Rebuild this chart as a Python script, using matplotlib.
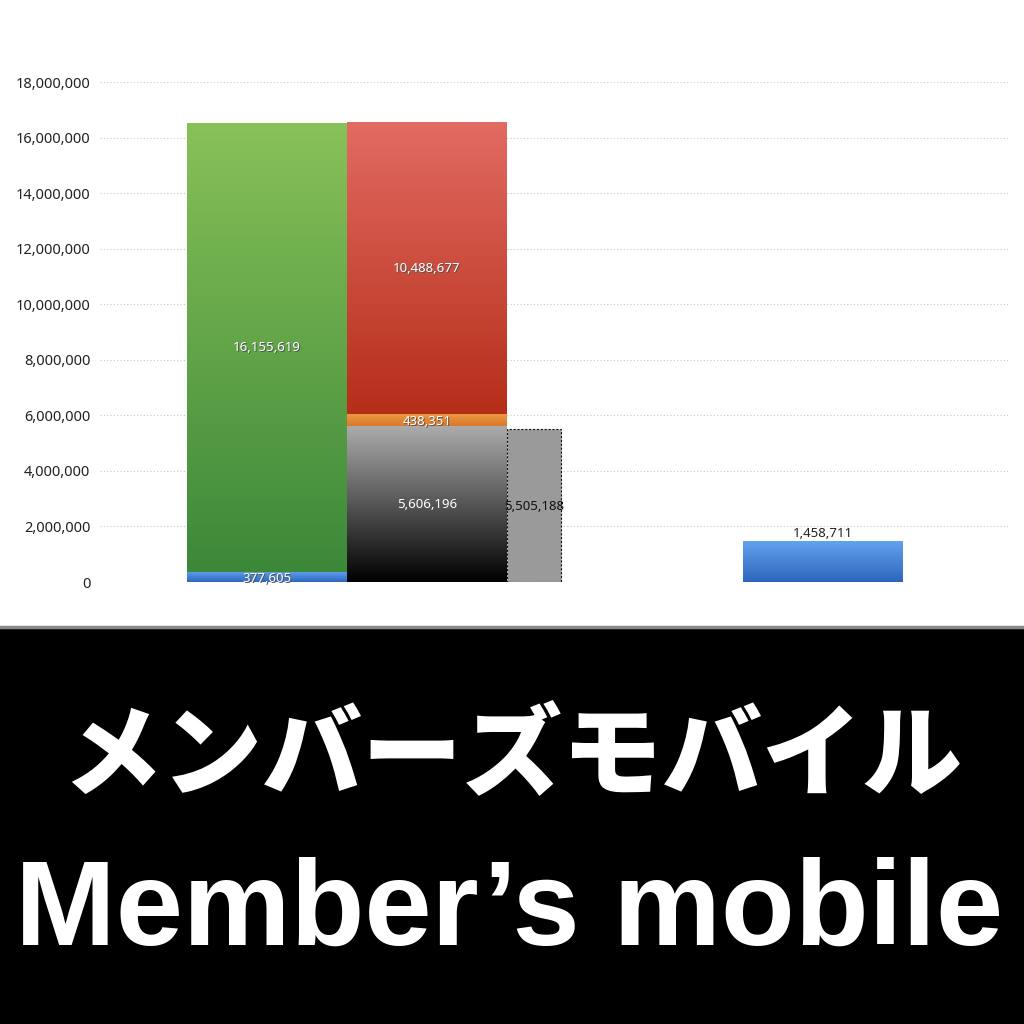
import matplotlib
matplotlib.use("Agg")
import matplotlib.pyplot as plt
import numpy as np
from matplotlib.patches import Rectangle

plt.rcParams['font.family'] = ['Noto Sans CJK JP', 'DejaVu Sans']

# ---- data ----
stack1_labels = ["blue", "green"]
stack1_values = [377605, 16155619]
stack2_labels = ["black", "orange", "red"]
stack2_values = [5606196, 438351, 10488677]
gray_value = 5505188
blue_value = 1458711
yticks = [0, 2000000, 4000000, 6000000, 8000000, 10000000, 12000000, 14000000, 16000000, 18000000]
title_jp = "メンバーズモバイル"
title_en = "Member’s mobile"

# ---- styles ----
grad = {
    "blue": ("#62a2ee", "#2d66bd"),
    "green": ("#88c158", "#3c8839"),
    "black": ("#ababab", "#000000"),
    "orange": ("#f09a45", "#d8782a"),
    "red": ("#e26b62", "#b52e19"),
}
NUMFONT = ["Noto Sans", "DejaVu Sans"]
LBL = 9.5

fig = plt.figure(figsize=(10.24, 10.24), dpi=100)
fig.patch.set_facecolor("white")

ax = fig.add_axes([100/1024, (1024-582)/1024, 908/1024, 500/1024])
ax.set_xlim(0, 908)
ax.set_ylim(0, 18000000)
for s in ax.spines.values():
    s.set_visible(False)
ax.set_xticks([])
ax.set_yticks(yticks)
ax.set_yticklabels([f"{v:,}" for v in yticks], fontsize=10.5, color="#222222", family=NUMFONT)
ax.tick_params(axis="y", length=0, pad=7)
for v in yticks:
    ax.axhline(v, color="#c8c8c8", lw=0.8, ls=(0, (1, 2)), zorder=0)


def grad_bar(x0, w, y0, h, key):
    top, bot = grad[key]
    c1 = np.array(matplotlib.colors.to_rgb(top))
    c2 = np.array(matplotlib.colors.to_rgb(bot))
    t = np.linspace(0, 1, 256)[:, None]
    img = (c1 * (1 - t) + c2 * t)[:, None, :]
    ax.imshow(img, extent=[x0, x0 + w, y0, y0 + h], aspect="auto", zorder=2,
              interpolation="bilinear", origin="upper")


def label(x, y, v):
    ax.text(x + 0.8, y - 45000, f"{v:,}", ha="center", va="center", fontsize=LBL,
            color="#555555", zorder=4, family=NUMFONT)
    ax.text(x, y, f"{v:,}", ha="center", va="center", fontsize=LBL, color="white",
            zorder=5, family=NUMFONT)


W = 160
# stack 1
x0 = 87
base = 0
for k, v in zip(stack1_labels, stack1_values):
    grad_bar(x0, W, base, v, k)
    base += v
label(x0 + W/2, stack1_values[0]/2 - 50000, stack1_values[0])
label(x0 + W/2, stack1_values[0] + stack1_values[1]/2, stack1_values[1])

# stack 2
x0 = 247
base = 0
for k, v in zip(stack2_labels, stack2_values):
    grad_bar(x0, W, base, v, k)
    label(x0 + W/2, base + v/2 - (30000 if k == "orange" else 0), v)
    base += v

# gray dashed bar
ax.add_patch(Rectangle((407, 0), 54, gray_value, facecolor="#9a9a9a", edgecolor="#111111",
                       lw=0.8, ls=(0, (2, 1.5)), zorder=3))
ax.text(407 + 27, gray_value/2 - 50000, f"{gray_value:,}", ha="center", va="center", fontsize=LBL,
        color="#111111", zorder=5, family=NUMFONT)

# blue bar
grad_bar(643, W, 0, blue_value, "blue")
ax.text(643 + W/2, blue_value + 280000, f"{blue_value:,}", ha="center", va="center", fontsize=LBL,
        color="#222222", zorder=5, family=NUMFONT)

ax.set_xlim(0, 908)
ax.set_ylim(0, 18000000)

# bottom black band
band = fig.add_axes([0, 0, 1, (1024-627)/1024])
band.set_xlim(0, 1)
band.set_ylim(0, 1)
band.axis("off")
band.add_patch(Rectangle((0, 0), 1, 1, facecolor="black", transform=band.transAxes))
fig.add_artist(plt.Line2D([0, 1], [(1024-627)/1024, (1024-627)/1024], color="#888888", lw=2.5,
                          transform=fig.transFigure))
fig.text(0.5, (1024-758)/1024, title_jp, ha="center", va="center", color="white",
         fontsize=72, fontweight="black")
fig.text(0.497, (1024-945)/1024, title_en, ha="center", va="baseline", color="white",
         fontsize=87, fontweight="bold", family=["Liberation Sans", "DejaVu Sans"])

fig.savefig("out.png", dpi=100, facecolor="white")
